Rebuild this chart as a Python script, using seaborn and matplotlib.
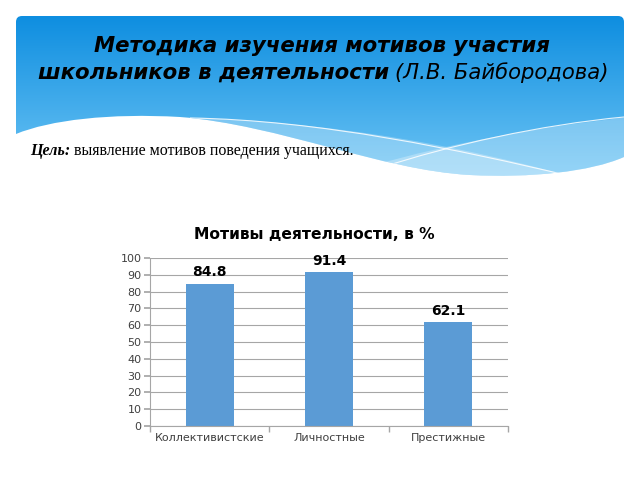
import numpy as np
import matplotlib.pyplot as plt
import seaborn as sns
from matplotlib.path import Path
from matplotlib.patches import PathPatch

categories = ["Коллективистские", "Личностные", "Престижные"]
values = [84.8, 91.4, 62.1]
y_ticks = list(range(0, 101, 10))

sns.set_theme(style="white")
plt.rcParams["font.family"] = ["DejaVu Sans"]

fig = plt.figure(figsize=(6.4, 4.8), dpi=100)
fig.patch.set_facecolor("white")

# slide background, pixel coordinates (y down)
bg = fig.add_axes([0, 0, 1, 1])
bg.axis("off")

C = Path.CURVE4
header_path = Path(
    [(16, 22), (16, 16), (22, 16), (618, 16), (624, 16), (624, 22), (624, 157),
     (590, 172), (530, 178), (470, 175),
     (380, 170), (280, 125), (180, 117),
     (110, 113), (50, 120), (16, 134), (16, 22)],
    [Path.MOVETO, Path.CURVE3, Path.CURVE3, Path.LINETO, Path.CURVE3, Path.CURVE3, Path.LINETO,
     C, C, C, C, C, C, C, C, C, Path.CLOSEPOLY])
header = PathPatch(header_path, facecolor="none", edgecolor="none")
bg.add_patch(header)

top_col = np.array([14, 142, 224]) / 255
bot_col = np.array([112, 198, 245]) / 255
t = np.linspace(0, 1, 200)[:, None]
grad = (top_col * (1 - t) + bot_col * t)[:, None, :]
img = bg.imshow(grad, extent=(16, 624, 180, 16), aspect="auto", origin="upper")
img.set_clip_path(header)

band_a = PathPatch(Path(
    [(150, 117), (300, 118), (450, 140), (600, 185), (600, 200), (150, 200), (150, 117)],
    [Path.MOVETO, C, C, C, Path.LINETO, Path.LINETO, Path.CLOSEPOLY]),
    facecolor="white", alpha=0.28, edgecolor="none")
band_b = PathPatch(Path(
    [(330, 178), (420, 150), (520, 128), (640, 116), (640, 200), (330, 200), (330, 178)],
    [Path.MOVETO, C, C, C, Path.LINETO, Path.LINETO, Path.CLOSEPOLY]),
    facecolor="white", alpha=0.28, edgecolor="none")
line_1 = PathPatch(Path([(190, 118), (320, 120), (460, 150), (570, 176)], [Path.MOVETO, C, C, C]),
                   facecolor="none", edgecolor="white", lw=0.8, alpha=0.85)
line_2 = PathPatch(Path([(380, 168), (450, 145), (540, 125), (624, 117)], [Path.MOVETO, C, C, C]),
                   facecolor="none", edgecolor="white", lw=0.8, alpha=0.85)
for p in (band_a, band_b, line_1, line_2):
    bg.add_patch(p)
    p.set_clip_path(header)

bg.set_xlim(0, 640)
bg.set_ylim(480, 0)

bg.text(322, 52, "Методика изучения мотивов участия", ha="center", va="baseline",
        fontsize=15.3, fontweight="bold", fontstyle="italic", color="black")
bg.text(389, 79, "школьников в деятельности", ha="right", va="baseline",
        fontsize=15.3, fontweight="bold", fontstyle="italic", color="black")
bg.text(395, 79, "(Л.В. Байбородова)", ha="left", va="baseline",
        fontsize=15.2, fontstyle="italic", color="black")

bg.text(30, 155, "Цель:", ha="left", va="baseline", fontsize=11.5,
        family="Liberation Serif", fontweight="bold", fontstyle="italic", color="black")
bg.text(74, 155, "выявление мотивов поведения учащихся.", ha="left", va="baseline",
        fontsize=11.5, family="Liberation Serif", color="black")

bg.text(314, 239, "Мотивы деятельности, в %", ha="center", va="baseline",
        fontsize=11.2, fontweight="bold", color="black")

# bar chart
ax = fig.add_axes([150 / 640, 54 / 480, 358 / 640, 168 / 480])
sns.barplot(x=categories, y=values, color="#5b9bd5", width=0.4, saturation=1,
            linewidth=0, ax=ax)
ax.set_ylim(0, 100)
ax.set_xlim(-0.5, len(categories) - 0.5)
ax.set_yticks(y_ticks)
ax.yaxis.grid(True, color="#a6a6a6", lw=0.8)
ax.set_axisbelow(True)
ax.set_xlabel("")
ax.set_ylabel("")
for s in ("top", "right"):
    ax.spines[s].set_visible(False)
for s in ("left", "bottom"):
    ax.spines[s].set_color("#a6a6a6")
    ax.spines[s].set_linewidth(0.8)
ax.tick_params(axis="y", which="major", length=4, color="#a6a6a6", labelsize=8,
               labelcolor="#404040", left=True, pad=2)
ax.tick_params(axis="x", which="major", length=0, labelsize=8, labelcolor="#404040", pad=5)
ax.set_xticks([i - 0.5 for i in range(len(categories) + 1)], minor=True)
ax.tick_params(axis="x", which="minor", length=4, color="#a6a6a6", bottom=True)
ax.bar_label(ax.containers[0], labels=[f"{v:.1f}" for v in values], padding=3,
             fontsize=10, fontweight="bold", color="black")

fig.savefig("out.png", dpi=100)
